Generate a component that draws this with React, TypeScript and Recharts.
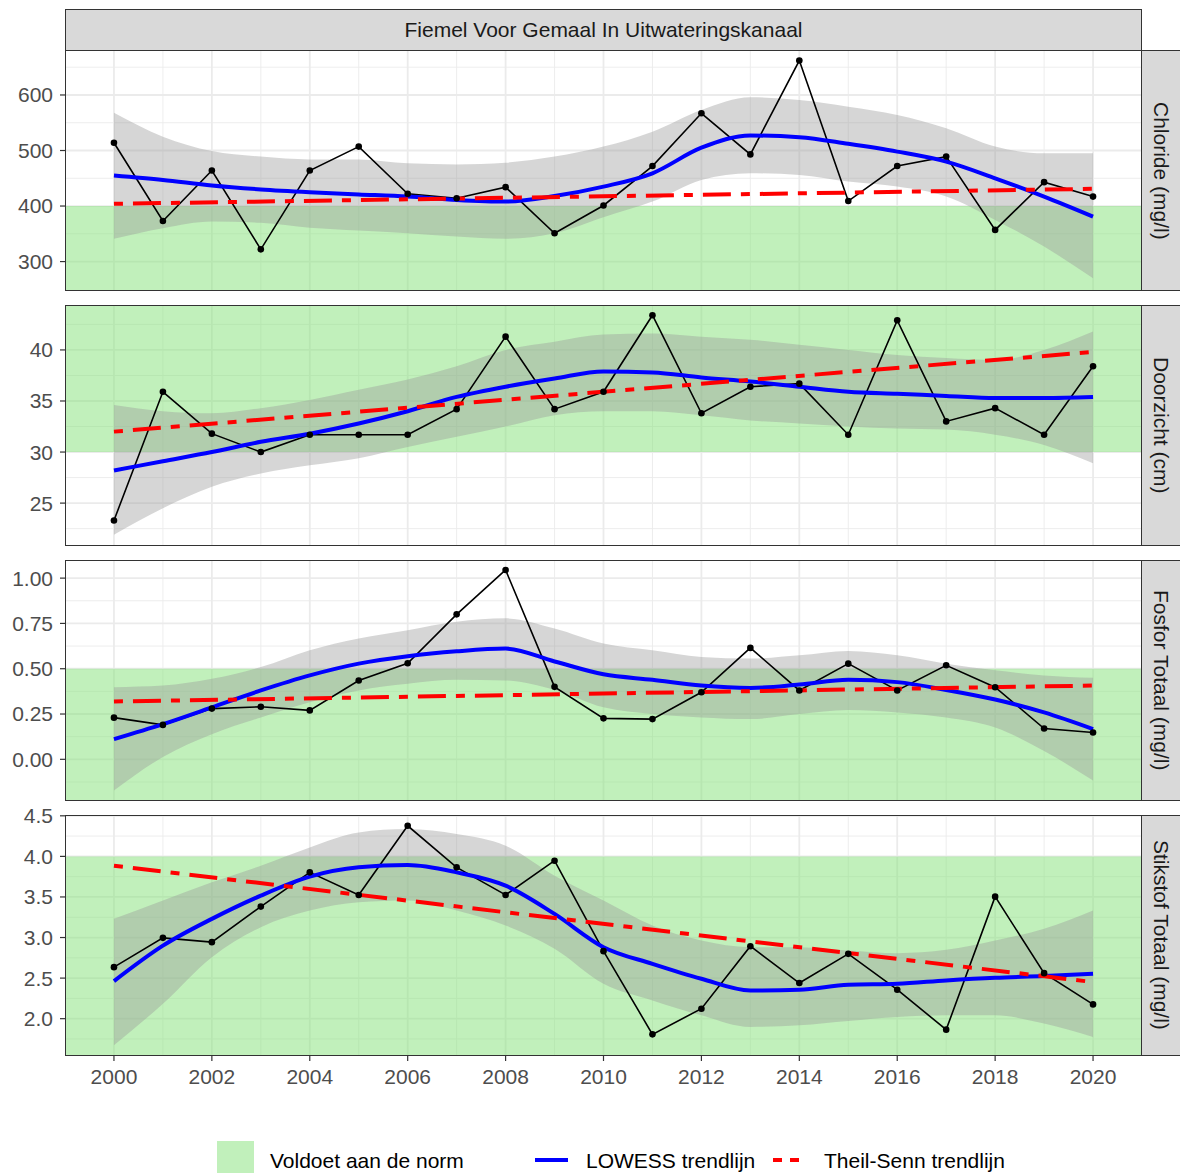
import {
  ComposedChart,
  Line,
  Area,
  XAxis,
  YAxis,
  CartesianGrid,
  ReferenceArea,
} from "recharts";

const FONT = '"Liberation Sans", Arial, sans-serif';
const PLOT_LEFT = 65;
const PLOT_RIGHT = 1142;
const PANEL_H = 241;
const PAD_TOP = 14; // room above the plot so the top tick label is not clipped

const years = [
  2000, 2001, 2002, 2003, 2004, 2005, 2006, 2007, 2008, 2009, 2010,
  2011, 2012, 2013, 2014, 2015, 2016, 2017, 2018, 2019, 2020,
];
const majorYears = [2000, 2002, 2004, 2006, 2008, 2010, 2012, 2014, 2016, 2018, 2020];
const minorYears = [2001, 2003, 2005, 2007, 2009, 2011, 2013, 2015, 2017, 2019];

// Chloride (mg/l)
const chlorideMeasured = [514, 373, 464, 322, 464, 507, 422, 414, 434, 351, 401, 472, 567, 493, 662, 409, 472, 489, 357, 443, 417];
const chlorideLowess = [455, 447, 437, 430, 425, 421, 417, 411, 408, 418, 435, 459, 505, 527, 524, 512, 498, 480, 450, 417, 381];
const chlorideUpper = [568, 525, 499, 489, 484, 484, 477, 475, 478, 489, 507, 534, 573, 596, 591, 579, 564, 540, 507, 495, 495];
const chlorideLower = [341, 360, 372, 370, 361, 356, 351, 345, 341, 351, 380, 408, 447, 459, 456, 444, 435, 417, 375, 327, 270];
const chlorideTheil = [404, 431];

// Doorzicht (cm)
const doorzichtMeasured = [23.3, 35.9, 31.8, 30.0, 31.7, 31.7, 31.7, 34.2, 41.3, 34.2, 35.9, 43.4, 33.8, 36.4, 36.7, 31.7, 42.9, 33.0, 34.3, 31.7, 38.4];
const doorzichtLowess = [28.2, 29.1, 30.0, 31.0, 31.8, 32.8, 34.0, 35.4, 36.4, 37.2, 37.9, 37.8, 37.3, 36.9, 36.4, 35.9, 35.7, 35.5, 35.3, 35.3, 35.4];
const doorzichtUpper = [34.6, 34.0, 33.8, 34.3, 35.1, 36.1, 37.1, 38.4, 40.0, 40.8, 41.5, 41.6, 41.3, 41.0, 40.5, 40.0, 39.5, 39.2, 39.0, 40.0, 41.8];
const doorzichtLower = [21.9, 24.5, 26.6, 27.9, 28.7, 29.4, 30.5, 31.5, 32.5, 33.6, 34.0, 34.0, 33.6, 33.1, 32.8, 32.5, 32.3, 32.2, 31.7, 30.7, 28.9];
const doorzichtTheil = [32.0, 39.8];

// Fosfor Totaal (mg/l)
const fosforMeasured = [0.23, 0.19, 0.28, 0.29, 0.27, 0.435, 0.53, 0.8, 1.045, 0.4, 0.226, 0.222, 0.37, 0.615, 0.38, 0.528, 0.38, 0.519, 0.398, 0.17, 0.148];
const fosforLowess = [0.111, 0.194, 0.287, 0.38, 0.463, 0.528, 0.569, 0.596, 0.611, 0.54, 0.469, 0.439, 0.407, 0.394, 0.413, 0.439, 0.426, 0.383, 0.33, 0.259, 0.167];
const fosforUpper = [0.398, 0.407, 0.444, 0.509, 0.602, 0.667, 0.713, 0.759, 0.778, 0.722, 0.639, 0.602, 0.565, 0.556, 0.574, 0.598, 0.574, 0.528, 0.491, 0.463, 0.45];
const fosforLower = [-0.172, 0.013, 0.139, 0.231, 0.315, 0.38, 0.417, 0.439, 0.435, 0.383, 0.287, 0.25, 0.231, 0.222, 0.25, 0.272, 0.259, 0.231, 0.176, 0.046, -0.117];
const fosforTheil = [0.319, 0.407];

// Stikstof Totaal (mg/l)
const stikstofMeasured = [2.635, 2.996, 2.943, 3.381, 3.803, 3.525, 4.377, 3.865, 3.525, 3.947, 2.832, 1.807, 2.123, 2.893, 2.439, 2.799, 2.357, 1.865, 3.504, 2.561, 2.176];
const stikstofLowess = [2.463, 2.9, 3.23, 3.516, 3.75, 3.865, 3.893, 3.803, 3.639, 3.291, 2.881, 2.676, 2.492, 2.348, 2.357, 2.418, 2.43, 2.471, 2.504, 2.525, 2.553];
const stikstofUpper = [3.23, 3.455, 3.68, 3.885, 4.111, 4.295, 4.336, 4.275, 4.131, 3.762, 3.455, 3.148, 2.963, 2.881, 2.881, 2.84, 2.807, 2.848, 2.963, 3.107, 3.332];
const stikstofLower = [1.672, 2.184, 2.758, 3.127, 3.332, 3.434, 3.455, 3.332, 3.148, 2.861, 2.43, 2.225, 2.041, 1.898, 1.918, 1.971, 2.02, 2.041, 2.041, 1.939, 1.775];
const stikstofTheil = [3.885, 2.451];

const panels = [
  {
    label: "Chloride (mg/l)",
    measured: chlorideMeasured,
    lowess: chlorideLowess,
    upper: chlorideUpper,
    lower: chlorideLower,
    theil: chlorideTheil,
    domain: [247, 681],
    ticks: [300, 400, 500, 600],
    minor: [350, 450, 550, 650],
    norm: [247, 400],
    digits: 0,
    top: 50,
  },
  {
    label: "Doorzicht (cm)",
    measured: doorzichtMeasured,
    lowess: doorzichtLowess,
    upper: doorzichtUpper,
    lower: doorzichtLower,
    theil: doorzichtTheil,
    domain: [20.8, 44.4],
    ticks: [25, 30, 35, 40],
    minor: [22.5, 27.5, 32.5, 37.5, 42.5],
    norm: [30, 44.4],
    digits: 0,
    top: 305,
  },
  {
    label: "Fosfor Totaal (mg/l)",
    measured: fosforMeasured,
    lowess: fosforLowess,
    upper: fosforUpper,
    lower: fosforLower,
    theil: fosforTheil,
    domain: [-0.23, 1.1],
    ticks: [0, 0.25, 0.5, 0.75, 1.0],
    minor: [-0.125, 0.125, 0.375, 0.625, 0.875],
    norm: [-0.23, 0.5],
    digits: 2,
    top: 560,
  },
  {
    label: "Stikstof Totaal (mg/l)",
    measured: stikstofMeasured,
    lowess: stikstofLowess,
    upper: stikstofUpper,
    lower: stikstofLower,
    theil: stikstofTheil,
    domain: [1.54, 4.51],
    ticks: [2.0, 2.5, 3.0, 3.5, 4.0, 4.5],
    minor: [1.75, 2.25, 2.75, 3.25, 3.75, 4.25],
    norm: [1.54, 4.0],
    digits: 1,
    top: 814.5,
  },
];

type PanelDef = (typeof panels)[number];

const tickStyle = { fontSize: 21, fill: "#4D4D4D", fontFamily: FONT };

function Panel({ p, showX }: { p: PanelDef; showX: boolean }) {
  const last = years.length - 1;
  const rows = years.map((year, i) => ({
    year,
    measured: p.measured[i],
    lowess: p.lowess[i],
    band: [p.lower[i], p.upper[i]],
    theil: i === 0 ? p.theil[0] : i === last ? p.theil[1] : null,
  }));
  const height = PAD_TOP + PANEL_H + (showX ? 40 : 0);

  return (
    <div style={{ position: "absolute", left: 0, top: p.top - PAD_TOP, width: PLOT_RIGHT + 45, height }}>
      <ComposedChart
        width={PLOT_RIGHT}
        height={height}
        data={rows}
        margin={{ top: PAD_TOP, right: 0, bottom: 0, left: 0 }}
      >
        <CartesianGrid
          verticalValues={minorYears}
          horizontalValues={p.minor}
          stroke="#EBEBEB"
          strokeWidth={0.9}
        />
        <CartesianGrid
          verticalValues={majorYears}
          horizontalValues={p.ticks}
          stroke="#EBEBEB"
          strokeWidth={1.8}
        />
        <XAxis
          type="number"
          dataKey="year"
          domain={[1999, 2021]}
          ticks={majorYears}
          hide={!showX}
          height={40}
          axisLine={false}
          tickLine={{ stroke: "#333333", strokeWidth: 1.2 }}
          tickSize={5}
          tickMargin={8}
          tick={tickStyle}
          interval={0}
        />
        <YAxis
          type="number"
          domain={p.domain}
          ticks={p.ticks}
          allowDataOverflow
          width={PLOT_LEFT}
          axisLine={false}
          tickLine={{ stroke: "#333333", strokeWidth: 1.2 }}
          tickSize={5}
          tickMargin={7}
          tick={tickStyle}
          interval={0}
          tickFormatter={(v: number) => v.toFixed(p.digits)}
        />
        <ReferenceArea
          x1={1999}
          x2={2021}
          y1={p.norm[0]}
          y2={p.norm[1]}
          fill="#83E177"
          fillOpacity={0.5}
          stroke="none"
          ifOverflow="extendDomain"
        />
        <Line
          dataKey="measured"
          stroke="none"
          dot={{ r: 3.3, fill: "#000000", stroke: "none" }}
          isAnimationActive={false}
        />
        <Area
          dataKey="band"
          type="monotone"
          fill="#999999"
          fillOpacity={0.4}
          stroke="none"
          isAnimationActive={false}
        />
        <Line
          dataKey="measured"
          stroke="#000000"
          strokeWidth={1.6}
          dot={false}
          isAnimationActive={false}
        />
        <Line
          dataKey="lowess"
          type="monotone"
          stroke="#0000FF"
          strokeWidth={4}
          dot={false}
          isAnimationActive={false}
        />
        <Line
          dataKey="theil"
          stroke="#FF0000"
          strokeWidth={4}
          strokeDasharray="9 10 28 10"
          connectNulls
          dot={false}
          isAnimationActive={false}
        />
      </ComposedChart>
      {/* panel border */}
      <div
        style={{
          position: "absolute",
          left: PLOT_LEFT,
          top: PAD_TOP,
          width: PLOT_RIGHT - PLOT_LEFT,
          height: PANEL_H,
          border: "1.5px solid #333333",
          boxSizing: "border-box",
          pointerEvents: "none",
        }}
      />
      {/* right strip */}
      <div
        style={{
          position: "absolute",
          left: PLOT_RIGHT - 1,
          top: PAD_TOP,
          width: 45,
          height: PANEL_H,
          background: "#D9D9D9",
          border: "1.5px solid #333333",
          boxSizing: "border-box",
          display: "flex",
          alignItems: "center",
          justifyContent: "flex-start",
          paddingLeft: 7,
        }}
      >
        <span
          style={{
            writingMode: "vertical-rl",
            fontSize: 21,
            color: "#1A1A1A",
            fontFamily: FONT,
            whiteSpace: "nowrap",
          }}
        >
          {p.label}
        </span>
      </div>
    </div>
  );
}

export default function App() {
  return (
    <div
      style={{
        position: "absolute",
        left: 0,
        top: 0,
        width: 1180,
        height: 1173,
        overflow: "hidden",
        background: "#FFFFFF",
        fontFamily: FONT,
      }}
    >
      {/* top strip */}
      <div
        style={{
          position: "absolute",
          left: PLOT_LEFT,
          top: 9,
          width: PLOT_RIGHT - PLOT_LEFT,
          height: 42,
          background: "#D9D9D9",
          border: "1.5px solid #333333",
          boxSizing: "border-box",
          display: "flex",
          alignItems: "center",
          justifyContent: "center",
          fontSize: 21,
          color: "#1A1A1A",
        }}
      >
        Fiemel Voor Gemaal In Uitwateringskanaal
      </div>

      {panels.map((p, i) => (
        <Panel key={p.label} p={p} showX={i === panels.length - 1} />
      ))}

      {/* legend */}
      <div
        style={{
          position: "absolute",
          left: 217,
          top: 1141,
          width: 37,
          height: 40,
          background: "#C1F0BB",
        }}
      />
      <div style={{ position: "absolute", left: 270, top: 1148, fontSize: 21, lineHeight: "26px", color: "#000" }}>
        Voldoet aan de norm
      </div>
      <svg style={{ position: "absolute", left: 530, top: 1150 }} width={45} height={20}>
        <line x1={5} y1={10} x2={38} y2={10} stroke="#0000FF" strokeWidth={4} />
      </svg>
      <div style={{ position: "absolute", left: 586, top: 1148, fontSize: 21, lineHeight: "26px", color: "#000" }}>
        LOWESS trendlijn
      </div>
      <svg style={{ position: "absolute", left: 768, top: 1150 }} width={45} height={20}>
        <line x1={5} y1={10} x2={38} y2={10} stroke="#FF0000" strokeWidth={4} strokeDasharray="9 8" />
      </svg>
      <div style={{ position: "absolute", left: 824, top: 1148, fontSize: 21, lineHeight: "26px", color: "#000" }}>
        Theil-Senn trendlijn
      </div>
    </div>
  );
}
